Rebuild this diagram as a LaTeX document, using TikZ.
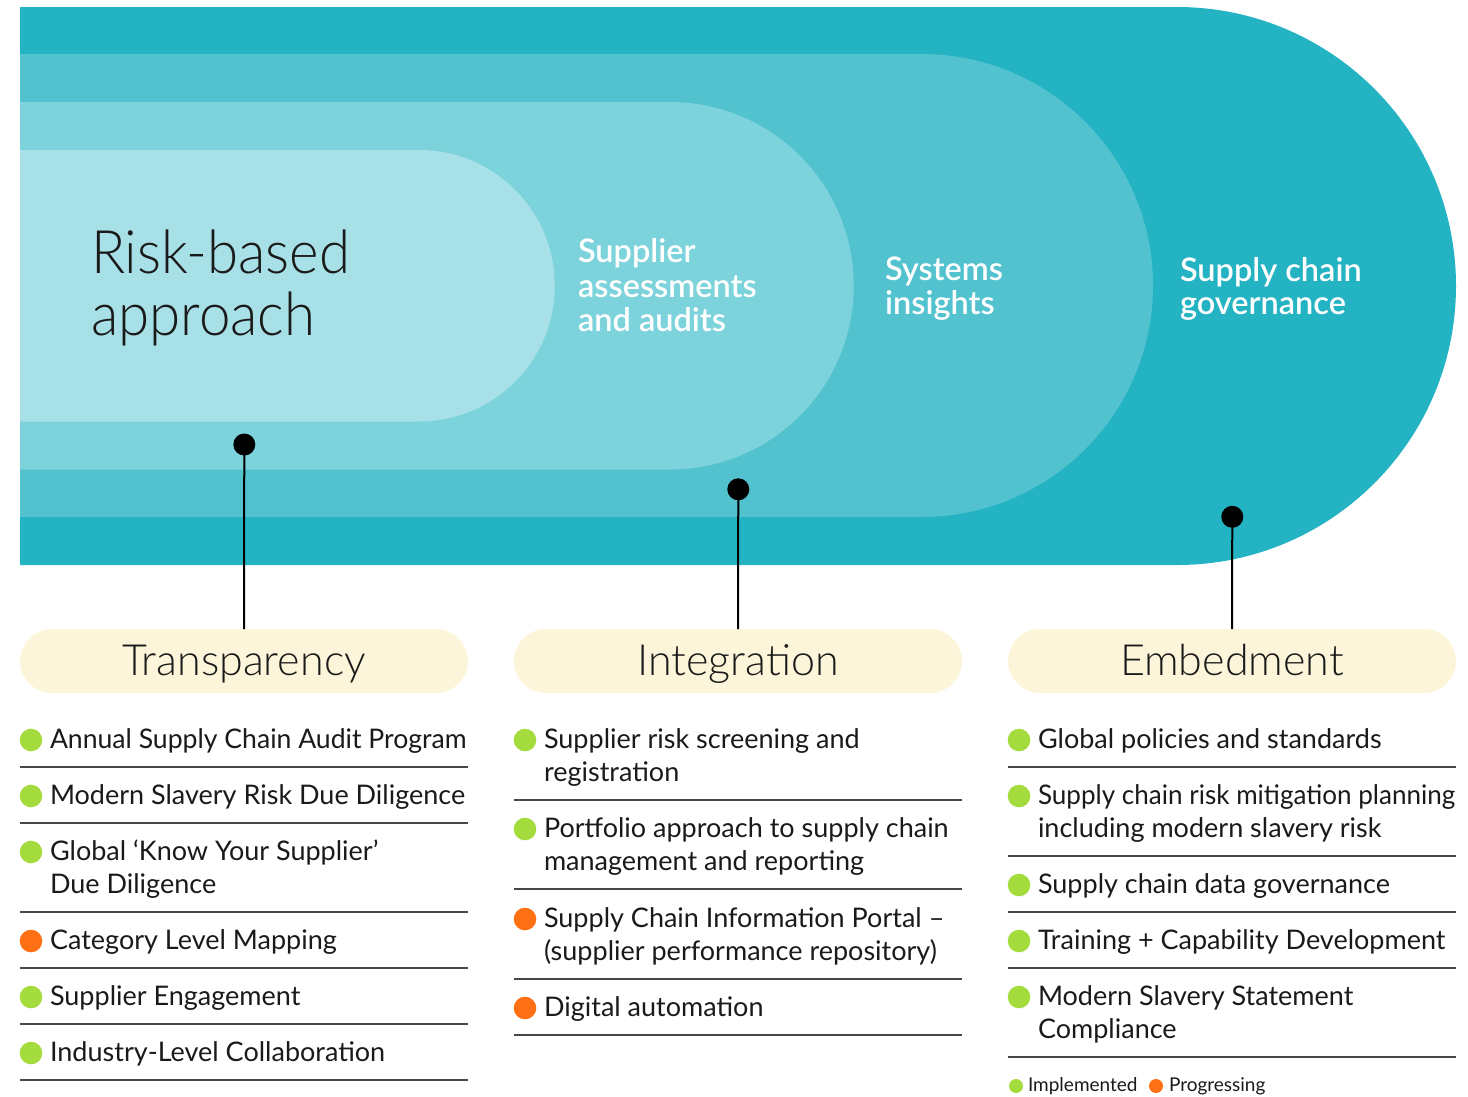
\documentclass[tikz,border=0pt]{standalone}
\usepackage{fontspec}
\setmainfont{Lato}
\newfontfamily\lightfont{Lato Light}
\newfontfamily\semifont{Lato Semibold}
\newcommand\setfs[2]{\fontsize{#1}{#2}\selectfont}
\newcommand\hsq[1]{\scalebox{0.94}[1]{#1}}
\definecolor{tealA}{HTML}{23B3C3}
\definecolor{tealB}{HTML}{52C2CF}
\definecolor{tealC}{HTML}{7DD3DB}
\definecolor{tealD}{HTML}{A8E0E7}
\definecolor{cream}{HTML}{FDF5DA}
\definecolor{impl}{HTML}{A4DC3D}
\definecolor{prog}{HTML}{FF6F13}
\definecolor{ink}{HTML}{1A1A1A}
\tikzset{
  every node/.style={inner sep=0pt, outer sep=0pt},
  txt/.style={anchor=base west, text=ink, font=\setfs{27}{33}},
  hero/.style={anchor=base west, text=ink, font=\lightfont\setfs{60}{62}},
  wtitle/.style={anchor=base west, text=white, font=\semifont\setfs{32.5}{34}},
  pilltxt/.style={anchor=base, text=ink, font=\lightfont\setfs{43}{44}},
  pill/.style={rectangle, rounded corners=32pt, fill=cream, minimum width=448pt, minimum height=64pt},
  dot/.style={circle, fill=black, minimum size=22pt},
  bul/.style={circle, minimum size=22.6pt},
  lbul/.style={circle, minimum size=14pt},
  ltxt/.style={anchor=base west, text=ink, font=\setfs{19}{20}},
  sep/.style={line width=1.3pt, draw=black!72},
  stem/.style={line width=2pt, draw=black},
}
\begin{document}
\begin{tikzpicture}[x=1pt, y=1pt]
\useasboundingbox (0,0) rectangle (1468,-1096);
% nested bands
\fill[tealA] (20,-7) -- (1177,-7) arc[start angle=90, end angle=-90, radius=279] -- (20,-565) -- cycle;
\fill[tealB] (20,-54) -- (921.5,-54) arc[start angle=90, end angle=-90, radius=231.5] -- (20,-517) -- cycle;
\fill[tealC] (20,-102) -- (670,-102) arc[start angle=90, end angle=-90, radius=183.75] -- (20,-469.5) -- cycle;
\fill[tealD] (20,-150) -- (419,-150) arc[start angle=90, end angle=-90, radius=135.75] -- (20,-421.5) -- cycle;
% band labels
\node[hero] (rb1) at (91,-273) {\hsq{Risk-based}};
\node[hero] (rb2) at (91,-335) {\hsq{approach}};
\node[wtitle] (sa1) at (578,-262) {Supplier};
\node[wtitle] (sa2) at (578,-297) {assessments};
\node[wtitle] (sa3) at (578,-331) {and audits};
\node[wtitle] (si1) at (885,-280) {Systems};
\node[wtitle] (si2) at (885,-314) {insights};
\node[wtitle] (sg1) at (1180,-281) {Supply chain};
\node[wtitle] (sg2) at (1180,-314) {governance};
% pills
\node[pill] (p1) at (244,-661) {};
\node[pill] (p2) at (738,-661) {};
\node[pill] (p3) at (1232,-661) {};
\node[pilltxt] (p1t) at (244,-675) {Transparency};
\node[pilltxt] (p2t) at (738,-675) {Integration};
\node[pilltxt] (p3t) at (1232,-675) {Embedment};
% connectors
\node[dot] (d1) at (244.3,-444.5) {};
\node[dot] (d2) at (738.3,-489.3) {};
\node[dot] (d3) at (1232.3,-516.8) {};
\draw[stem] (d1.center) -- (p1.north);
\draw[stem] (d2.center) -- (p2.north);
\draw[stem] (d3.center) -- (p3.north);
% column 1
\node[bul, fill=impl] (a1b) at (31,-740) {};
\node[txt] (a1) at (50,-748) {\scalebox{0.985}[1]{Annual Supply Chain Audit Program}};
\draw[sep] (20,-767) -- (468,-767);
\node[bul, fill=impl] (a2b) at (31,-796) {};
\node[txt] (a2) at (50,-804) {Modern Slavery Risk Due Diligence};
\draw[sep] (20,-823) -- (468,-823);
\node[bul, fill=impl] (a3b) at (31,-852) {};
\node[txt] (a3) at (50,-860) {Global ‘Know Your Supplier’};
\node[txt] (a3x) at (50,-893) {Due Diligence};
\draw[sep] (20,-912) -- (468,-912);
\node[bul, fill=prog] (a4b) at (31,-941) {};
\node[txt] (a4) at (50,-949) {Category Level Mapping};
\draw[sep] (20,-968) -- (468,-968);
\node[bul, fill=impl] (a5b) at (31,-997) {};
\node[txt] (a5) at (50,-1005) {Supplier Engagement};
\draw[sep] (20,-1024) -- (468,-1024);
\node[bul, fill=impl] (a6b) at (31,-1053) {};
\node[txt] (a6) at (50,-1061) {Industry-Level Collaboration};
\draw[sep] (20,-1080) -- (468,-1080);
% column 2
\node[bul, fill=impl] (b1b) at (525,-740) {};
\node[txt] (b1) at (544,-748) {Supplier risk screening and};
\node[txt] (b1x) at (544,-781) {registration};
\draw[sep] (514,-800) -- (962,-800);
\node[bul, fill=impl] (b2b) at (525,-829) {};
\node[txt] (b2) at (544,-837) {Portfolio approach to supply chain};
\node[txt] (b2x) at (544,-870) {management and reporting};
\draw[sep] (514,-889) -- (962,-889);
\node[bul, fill=prog] (b3b) at (525,-919) {};
\node[txt] (b3) at (544,-927) {Supply Chain Information Portal –};
\node[txt] (b3x) at (544,-960) {(supplier performance repository)};
\draw[sep] (514,-979) -- (962,-979);
\node[bul, fill=prog] (b4b) at (525,-1008) {};
\node[txt] (b4) at (544,-1016) {Digital automation};
\draw[sep] (514,-1035) -- (962,-1035);
% column 3
\node[bul, fill=impl] (c1b) at (1019,-740) {};
\node[txt] (c1) at (1038,-748) {Global policies and standards};
\draw[sep] (1008,-767) -- (1456,-767);
\node[bul, fill=impl] (c2b) at (1019,-796) {};
\node[txt] (c2) at (1038,-804) {\scalebox{0.965}[1]{Supply chain risk mitigation planning}};
\node[txt] (c2x) at (1038,-837) {including modern slavery risk};
\draw[sep] (1008,-856) -- (1456,-856);
\node[bul, fill=impl] (c3b) at (1019,-885) {};
\node[txt] (c3) at (1038,-893) {Supply chain data governance};
\draw[sep] (1008,-912) -- (1456,-912);
\node[bul, fill=impl] (c4b) at (1019,-941) {};
\node[txt] (c4) at (1038,-949) {Training + Capability Development};
\draw[sep] (1008,-968) -- (1456,-968);
\node[bul, fill=impl] (c5b) at (1019,-997) {};
\node[txt] (c5) at (1038,-1005) {Modern Slavery Statement};
\node[txt] (c5x) at (1038,-1038) {Compliance};
\draw[sep] (1008,-1057) -- (1456,-1057);
% legend
\node[lbul, fill=impl] (l1b) at (1016,-1086) {};
\node[ltxt] (l1) at (1028,-1091) {Implemented};
\node[lbul, fill=prog] (l2b) at (1156,-1086) {};
\node[ltxt] (l2) at (1169,-1091) {Progressing};
\end{tikzpicture}
\end{document}
